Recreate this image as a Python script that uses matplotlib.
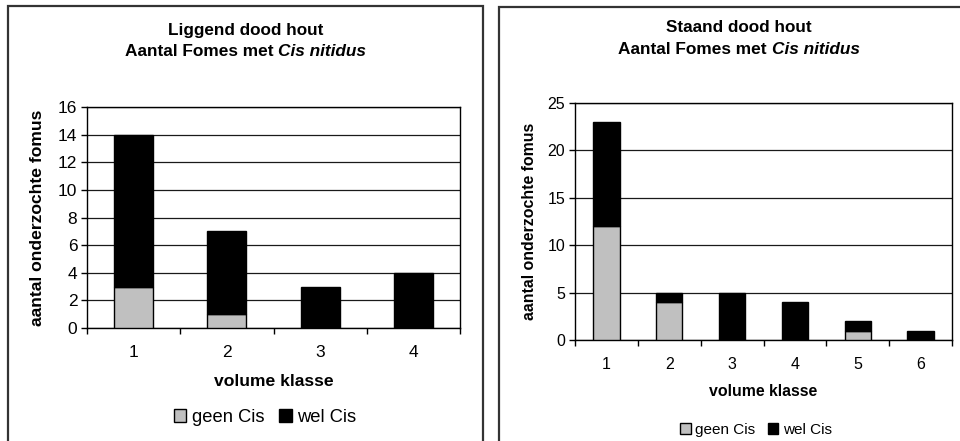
import matplotlib
matplotlib.use("Agg")
import matplotlib.pyplot as plt
from matplotlib.patches import Rectangle, Patch

plt.rcParams['font.family'] = ['Liberation Sans', 'DejaVu Sans']

# Liggend dood hout (lying dead wood)
klasse_lig = [1, 2, 3, 4]
geen_cis_lig = [3, 1, 0, 0]
wel_cis_lig = [11, 6, 3, 4]

# Staand dood hout (standing dead wood)
klasse_sta = [1, 2, 3, 4, 5, 6]
geen_cis_sta = [12, 4, 0, 0, 1, 0]
wel_cis_sta = [11, 1, 5, 4, 1, 1]

W, H = 960, 441
GREY = '#c0c0c0'

fig = plt.figure(figsize=(W / 100, H / 100), dpi=100)


def px(x, y):
    return x / W, 1 - y / H


def ax_rect(x0, x1, top, bottom):
    return [x0 / W, 1 - bottom / H, (x1 - x0) / W, (bottom - top) / H]


def mixed_line(xc, y, parts, size):
    # parts: list of (text, fontstyle); drawn centred on xc as one line
    renderer = fig.canvas.get_renderer()
    texts = []
    for s, style in parts:
        t = fig.text(0, 0, s, fontsize=size, fontweight='bold', fontstyle=style,
                     ha='left', va='center')
        texts.append(t)
    widths = [t.get_window_extent(renderer).width for t in texts]
    x = xc - sum(widths) / 2
    for t, w in zip(texts, widths):
        t.set_position(px(x, y))
        x += w


def panel(box, axpos, klasse, geen, wel, ymax, ystep, title, title_y, ylab_x,
          tick_fs, lab_fs, leg_fs, xlab_y, leg_xy):
    # outer chart border
    x0, y0, x1 = box
    fig.patches.append(Rectangle(px(x0, H + 5), (x1 - x0) / W, (H + 5 - y0) / H,
                                 transform=fig.transFigure, fill=False,
                                 edgecolor='#333333', linewidth=1.6))
    ax = fig.add_axes(axpos)
    n = len(klasse)
    ax.bar(klasse, geen, width=0.42, color=GREY,
           edgecolor=['black' if v > 0 else 'none' for v in geen], linewidth=1, zorder=3)
    ax.bar(klasse, wel, bottom=geen, width=0.42, color='black',
           edgecolor='black', linewidth=1, zorder=3)
    ax.set_xlim(0.5, n + 0.5)
    ax.set_ylim(0, ymax)
    ax.set_yticks(range(0, ymax + 1, ystep))
    ax.set_xticks(klasse)
    ax.set_xticks([k + 0.5 for k in range(n + 1)], minor=True)
    ax.tick_params(axis='x', which='major', length=0, pad=12, labelsize=tick_fs)
    ax.tick_params(axis='x', which='minor', length=4, width=1, direction='out')
    ax.tick_params(axis='y', length=4, width=1, direction='out', pad=3, labelsize=tick_fs)
    ax.yaxis.grid(True, color='#1a1a1a', linewidth=0.9, zorder=0)
    ax.set_axisbelow(True)
    for sp in ax.spines.values():
        sp.set_color('black')
        sp.set_linewidth(1)

    xc = (x0 + x1) / 2
    fig.text(*px(xc, title_y[0]), title, fontsize=12.3, fontweight='bold',
             ha='center', va='center')
    mixed_line(xc, title_y[1], [('Aantal Fomes met ', 'normal'),
                                ('Cis nitidus', 'italic')], 12.4)

    pos = ax.get_position()
    ax_cx = (pos.x0 + pos.x1) / 2
    ax_cy = (pos.y0 + pos.y1) / 2
    fig.text(ylab_x / W, ax_cy, 'aantal onderzochte fomus', rotation=90,
             fontsize=lab_fs, fontweight='bold', ha='center', va='center')
    fig.text(ax_cx, 1 - xlab_y / H, 'volume klasse', fontsize=lab_fs,
             fontweight='bold', ha='center', va='center')

    handles = [Patch(facecolor=GREY, edgecolor='black', linewidth=1, label='geen Cis'),
               Patch(facecolor='black', edgecolor='black', linewidth=1, label='wel Cis')]
    fig.legend(handles=handles, loc='center', bbox_to_anchor=px(*leg_xy), ncol=2,
               frameon=False, fontsize=leg_fs, handlelength=0.7, handleheight=0.7,
               handletextpad=0.3, columnspacing=0.8, borderpad=0)
    return ax


panel((8, 6, 483), ax_rect(87, 460, 107, 328), klasse_lig, geen_cis_lig, wel_cis_lig,
      16, 2, 'Liggend dood hout', (30, 52), 38, 12.5, 12.6, 13.2, 382, (265, 417))

panel((499, 7, 979), ax_rect(575, 952, 103, 340), klasse_sta, geen_cis_sta, wel_cis_sta,
      25, 5, 'Staand dood hout', (28, 49), 530, 11.5, 11.4, 11, 391, (756, 430))

fig.savefig('out.png', dpi=100)
